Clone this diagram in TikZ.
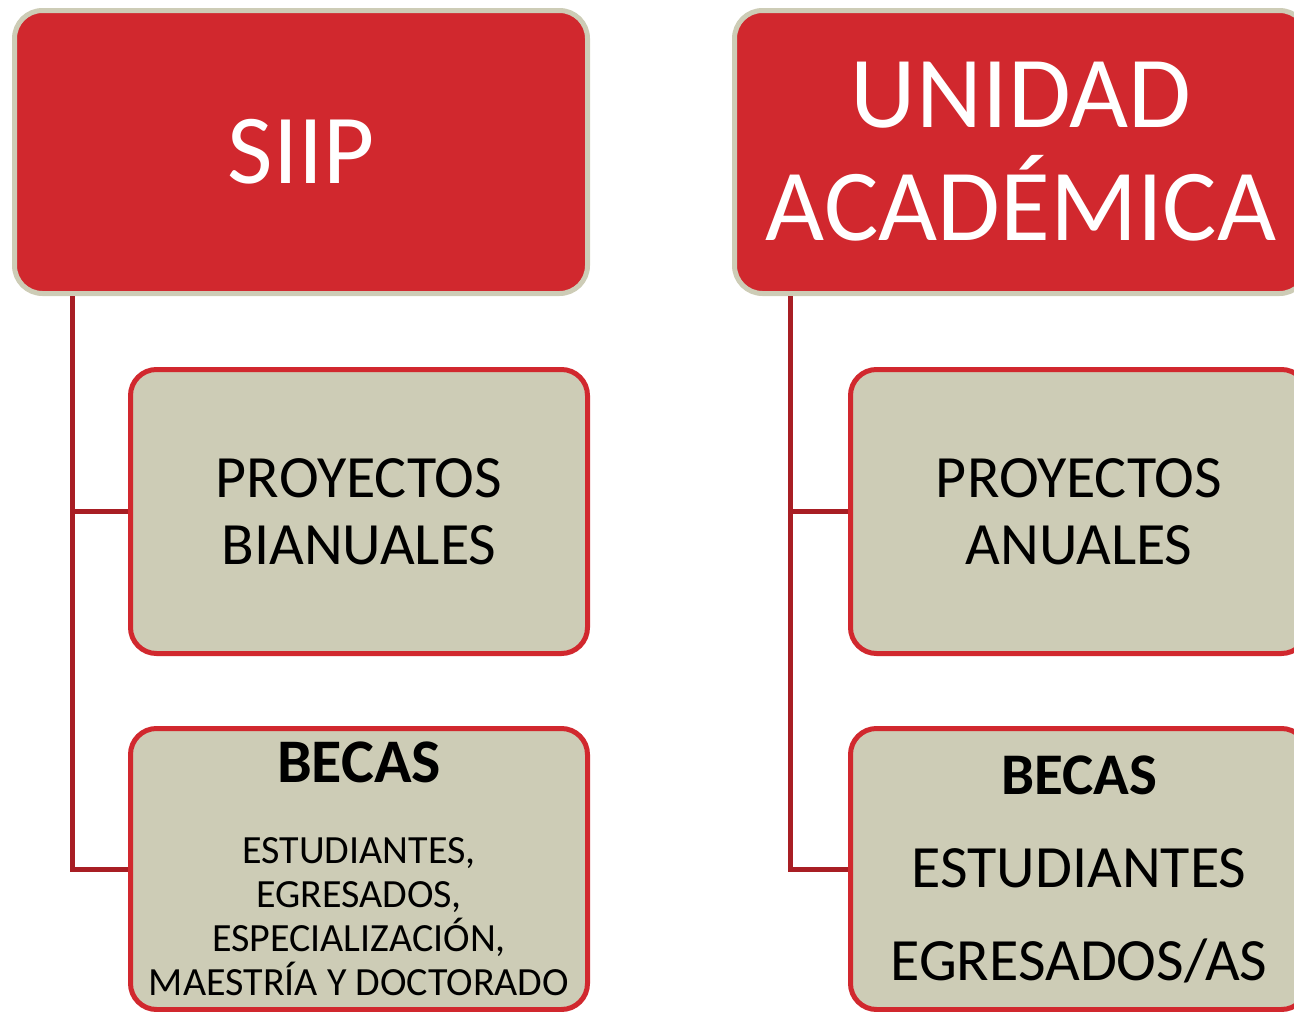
\documentclass[tikz,border=0pt]{standalone}
\usepackage{fontspec}
\setmainfont{Carlito}
\usetikzlibrary{positioning}

\definecolor{rojo}{RGB}{209,40,46}
\definecolor{beige}{RGB}{205,204,182}
\definecolor{vino}{RGB}{168,30,36}

\begin{document}
\begin{tikzpicture}[x=1pt, y=-1pt,
      topbox/.style={rectangle, draw=beige, line width=5pt, fill=rojo, text=white, minimum width=573pt, minimum height=283pt, rounded corners=28pt, align=center, inner sep=0pt},
      subbox/.style={rectangle, draw=rojo, line width=5pt, fill=beige, text=black, minimum width=457pt, minimum height=284pt, rounded corners=26pt, align=center, inner sep=0pt},
      link/.style={draw=vino, line width=5pt},
      node distance=71pt and 142pt
    ]
    \useasboundingbox (0,0) rectangle (1294,1012);

    \node[topbox, font=\fontsize{99}{110}\selectfont] (siip) at (301,152) {SIIP};
    \node[topbox, right=of siip, font=\fontsize{102}{113}\selectfont] (unidad) {UNIDAD\\ACADÉMICA};

    \node[subbox, below=71pt of siip.south east, anchor=north east, font=\fontsize{60}{67}\selectfont] (proy1) {PROYECTOS\\BIANUALES};
    \node[subbox, below=70pt of proy1, minimum height=281pt, font=\fontsize{40}{44}\selectfont] (becas1) {{\bfseries\fontsize{62}{62}\selectfont BECAS}\\[37pt]ESTUDIANTES,\\EGRESADOS,\\ESPECIALIZACIÓN,\\MAESTRÍA Y DOCTORADO};

    \node[subbox, below=71pt of unidad.south east, anchor=north east, font=\fontsize{60}{67}\selectfont] (proy2) {PROYECTOS\\ANUALES};
    \node[subbox, below=70pt of proy2, minimum height=281pt, font=\fontsize{60}{93}\selectfont] (becas2) {{\bfseries\fontsize{59}{59}\selectfont BECAS}\\ESTUDIANTES\\EGRESADOS/AS};

    \coordinate[right=60pt of siip.south west] (tronco1);
    \coordinate[right=58pt of unidad.south west] (tronco2);

    \draw[link] (tronco1) |- (proy1.west);
    \draw[link] (tronco1) |- (becas1.west);
    \draw[link] (tronco2) |- (proy2.west);
    \draw[link] (tronco2) |- (becas2.west);

    \end{tikzpicture}
\end{document}
